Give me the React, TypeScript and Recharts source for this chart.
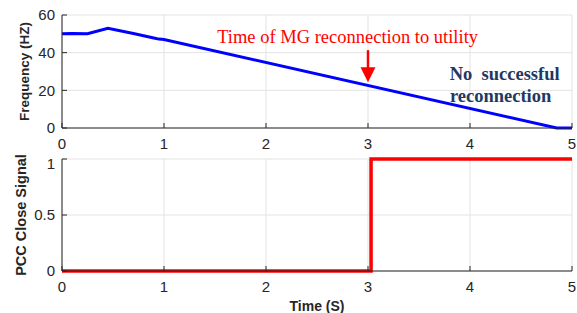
import React from 'react';
import {
  LineChart,
  Line,
  XAxis,
  YAxis,
  CartesianGrid,
  ReferenceLine,
  ReferenceDot,
} from 'recharts';

// frequency trace (s, Hz)
const freqTime = [0, 0.1, 0.25, 0.45, 0.7, 0.9, 0.95, 1.0, 4.85, 5];
const freqHz = [50, 50.2, 50.1, 53, 50.2, 47.8, 47.2, 47, 0, 0];

// PCC close signal (s, -)
const sigTime = [0, 3.03, 3.03, 5];
const sigValue = [0, 0, 1, 1];

const timeTicks = [0, 1, 2, 3, 4, 5];
const freqTicks = [0, 20, 40, 60];
const sigTicks = [0, 0.5, 1];

const freqData = freqTime.map((t, i) => ({ t, hz: freqHz[i] }));
const sigData = sigTime.map((t, i) => ({ t, s: sigValue[i] }));

const W = 577;
const AXIS = '#262626';
const GRID = '#e3e3e3';
const tickFont = { fontFamily: 'Liberation Sans, Arial, sans-serif', fontSize: 15, fill: AXIS };
const labelFont = {
  fontFamily: 'Liberation Sans, Arial, sans-serif',
  fontSize: 13.5,
  fontWeight: 'bold' as const,
  fill: AXIS,
  textAnchor: 'middle' as const,
};
const blank = () => '';

const TextMark = (txt: string, color: string, bold: boolean) => (p: any) => (
  <text
    x={p.cx}
    y={p.cy}
    textAnchor="middle"
    fill={color}
    fontFamily="Liberation Serif, Times New Roman, serif"
    fontSize={18.5}
    fontWeight={bold ? 'bold' : 'normal'}
    style={{ whiteSpace: 'pre' }}
  >
    {txt}
  </text>
);

const ArrowHead = (p: any) => (
  <polygon
    points={`${p.cx},${p.cy} ${p.cx - 7.5},${p.cy - 15} ${p.cx + 7.5},${p.cy - 15}`}
    fill="#ff0000"
  />
);

export default function App() {
  return (
    <div style={{ position: 'absolute', left: 0, top: 0, width: W, height: 313, background: '#fff' }}>
      <LineChart width={W} height={155} data={freqData} margin={{ top: 15, right: 5, left: 0, bottom: 0 }}>
        <CartesianGrid stroke={GRID} />
        <XAxis
          dataKey="t"
          type="number"
          domain={[0, 5]}
          ticks={timeTicks}
          height={27}
          stroke={AXIS}
          tickSize={-5}
          tickMargin={15}
          tick={tickFont}
        />
        <XAxis xAxisId="top" orientation="top" dataKey="t" type="number" domain={[0, 5]} ticks={timeTicks}
          height={0} stroke={AXIS} tickSize={-5} tickFormatter={blank} />
        <YAxis
          type="number"
          domain={[0, 60]}
          ticks={freqTicks}
          width={62}
          stroke={AXIS}
          tickSize={-5}
          tickMargin={12}
          tick={tickFont}
          label={{ value: 'Frequency (HZ)', angle: -90, position: 'insideLeft', offset: 24, style: labelFont }}
        />
        <YAxis yAxisId="right" orientation="right" type="number" domain={[0, 60]} ticks={freqTicks}
          width={0} stroke={AXIS} tickSize={-5} tickFormatter={blank} />
        <Line type="linear" dataKey="hz" stroke="#0000ff" strokeWidth={3} dot={false} isAnimationActive={false} />
        <ReferenceLine segment={[{ x: 3, y: 41.3 }, { x: 3, y: 31 }]} stroke="#ff0000" strokeWidth={2.5} />
        <ReferenceDot x={3} y={24.3} r={0} shape={ArrowHead} />
        <ReferenceDot x={2.8} y={45} r={0} shape={TextMark('Time of MG reconnection to utility', '#ff0000', false)} />
        <ReferenceDot x={4.34} y={25.4} r={0} shape={TextMark('No  successful', '#1f3864', true)} />
        <ReferenceDot x={4.3} y={13.7} r={0} shape={TextMark('reconnection', '#1f3864', true)} />
      </LineChart>
      <LineChart width={W} height={158} data={sigData} margin={{ top: 4, right: 5, left: 0, bottom: 0 }}>
        <CartesianGrid stroke={GRID} />
        <XAxis
          dataKey="t"
          type="number"
          domain={[0, 5]}
          ticks={timeTicks}
          height={42}
          stroke={AXIS}
          tickSize={-5}
          tickMargin={15}
          tick={tickFont}
          label={{ value: 'Time (S)', position: 'insideBottom', offset: 2, style: { ...labelFont, fontSize: 14 } }}
        />
        <XAxis xAxisId="top" orientation="top" dataKey="t" type="number" domain={[0, 5]} ticks={timeTicks}
          height={0} stroke={AXIS} tickSize={-5} tickFormatter={blank} />
        <YAxis
          type="number"
          domain={[0, 1]}
          ticks={sigTicks}
          width={62}
          stroke={AXIS}
          tickSize={-5}
          tickMargin={12}
          tick={tickFont}
          label={{ value: 'PCC Close Signal', angle: -90, position: 'insideLeft', offset: 21, style: { ...labelFont, fontSize: 14.5 } }}
        />
        <YAxis yAxisId="right" orientation="right" type="number" domain={[0, 1]} ticks={sigTicks}
          width={0} stroke={AXIS} tickSize={-5} tickFormatter={blank} />
        <Line type="linear" dataKey="s" stroke="#ff0000" strokeWidth={3.5} dot={false} isAnimationActive={false} />
      </LineChart>
    </div>
  );
}
